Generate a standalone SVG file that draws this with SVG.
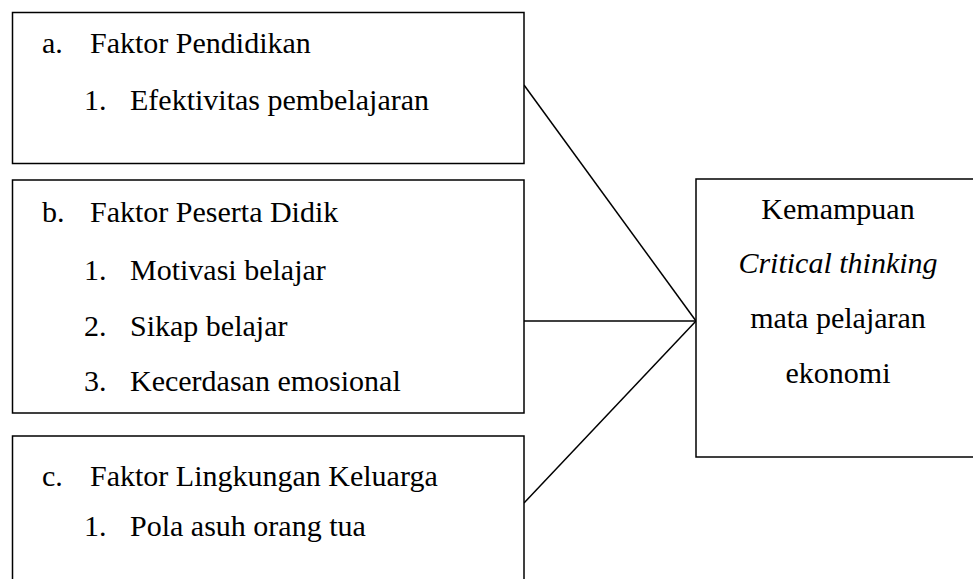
<svg xmlns="http://www.w3.org/2000/svg" width="973" height="579" viewBox="0 0 973 579">
<style>
.box{fill:#fff;stroke:#000;stroke-width:1.5}
.t{font-family:'Liberation Serif',serif;font-size:30px;fill:#000}
.i{font-style:italic}
.c{stroke:#000;stroke-width:1.5;fill:none}
</style>
<rect width="973" height="579" fill="#fff"/>
<g id="connectors">
<line class="c" x1="524" y1="85" x2="696" y2="321"/>
<line class="c" x1="524" y1="321" x2="696" y2="321"/>
<line class="c" x1="524" y1="503" x2="696" y2="321"/>
</g>
<g id="node-a">
<rect class="box" x="12.5" y="12.5" width="511.5" height="151"/>
<text class="t" x="42" y="53">a.</text>
<text class="t" x="90" y="53">Faktor Pendidikan</text>
<text class="t" x="84" y="110">1.</text>
<text class="t" x="130" y="110">Efektivitas pembelajaran</text>
</g>
<g id="node-b">
<rect class="box" x="12.5" y="180" width="511.5" height="233"/>
<text class="t" x="42" y="222">b.</text>
<text class="t" x="90" y="222">Faktor Peserta Didik</text>
<text class="t" x="84" y="280">1.</text>
<text class="t" x="130" y="280">Motivasi belajar</text>
<text class="t" x="84" y="336">2.</text>
<text class="t" x="130" y="336">Sikap belajar</text>
<text class="t" x="84" y="391">3.</text>
<text class="t" x="130" y="391">Kecerdasan emosional</text>
</g>
<g id="node-c">
<rect class="box" x="12.5" y="436" width="511.5" height="160"/>
<text class="t" x="42" y="486">c.</text>
<text class="t" x="90" y="486">Faktor Lingkungan Keluarga</text>
<text class="t" x="84" y="536">1.</text>
<text class="t" x="130" y="536">Pola asuh orang tua</text>
</g>
<g id="node-d">
<rect class="box" x="696" y="179" width="290" height="278"/>
<text class="t" x="838" y="219" text-anchor="middle">Kemampuan</text>
<text class="t i" x="838" y="273" text-anchor="middle">Critical thinking</text>
<text class="t" x="838" y="328" text-anchor="middle">mata pelajaran</text>
<text class="t" x="838" y="383" text-anchor="middle">ekonomi</text>
</g>
</svg>
